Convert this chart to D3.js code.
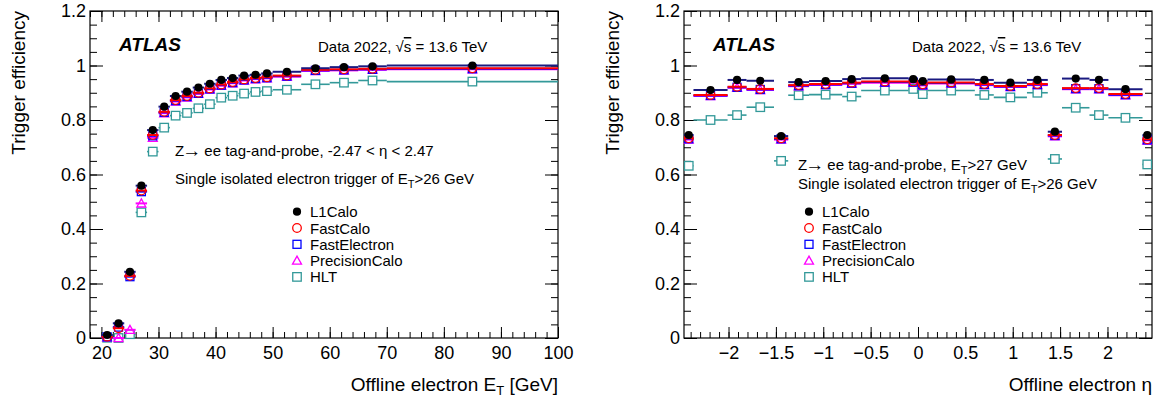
<!DOCTYPE html>
<html lang="en">
<head>
<meta charset="UTF-8">
<title>Trigger efficiency vs ET and eta</title>
<script src="https://d3js.org/d3.v7.min.js"></script>
<style>
    body { margin: 0; background: #fff; }
    svg { display: block; font-family: "Liberation Sans", Arial, Helvetica, sans-serif; }
    .tick text { font-size: 18px; font-family: "Liberation Sans", Arial, Helvetica, sans-serif; fill: #000; }
    .tick line { stroke: #000; stroke-width: 1; }
</style>
</head>
<body>
<svg width="1159" height="405"></svg>
<script>
// ---- ET panel data (bin edges in GeV, one value per bin) ----
const etEdges = [20, 22, 24, 26, 28, 30, 32, 34, 36, 38, 40, 42, 44, 46, 48, 50, 55, 60, 65, 70, 100];
const etL1Calo        = [0.011, 0.054, 0.243, 0.559, 0.763, 0.849, 0.888, 0.904, 0.919, 0.933, 0.947, 0.954, 0.963, 0.966, 0.971, 0.977, 0.990, 0.994, 0.997, 1.000];
const etFastCalo      = [0.005, 0.036, 0.228, 0.541, 0.745, 0.830, 0.873, 0.888, 0.900, 0.916, 0.930, 0.939, 0.949, 0.954, 0.957, 0.963, 0.984, 0.986, 0.988, 0.990];
const etFastElectron  = [0.004, 0.040, 0.225, 0.537, 0.742, 0.828, 0.871, 0.886, 0.898, 0.914, 0.928, 0.937, 0.947, 0.952, 0.955, 0.961, 0.982, 0.984, 0.986, 0.988];
const etPrecisionCalo = [0.003, 0.000, 0.030, 0.494, 0.735, 0.825, 0.868, 0.883, 0.896, 0.912, 0.926, 0.935, 0.945, 0.950, 0.953, 0.959, 0.980, 0.982, 0.984, 0.986];
const etHLT           = [0.001, 0.000, 0.014, 0.461, 0.684, 0.772, 0.816, 0.826, 0.843, 0.858, 0.882, 0.889, 0.897, 0.903, 0.906, 0.911, 0.931, 0.937, 0.945, 0.941];

// ---- eta panel data ----
const etaEdges = [-2.47, -2.37, -2.01, -1.81, -1.52, -1.37, -1.15, -0.8, -0.6, -0.1, 0, 0.1, 0.6, 0.8, 1.15, 1.37, 1.52, 1.81, 2.01, 2.37, 2.47];
const etaL1Calo        = [0.745, 0.910, 0.947, 0.944, 0.741, 0.939, 0.943, 0.950, 0.953, 0.950, 0.943, 0.949, 0.947, 0.937, 0.947, 0.757, 0.952, 0.947, 0.913, 0.745];
const etaFastCalo      = [0.733, 0.892, 0.922, 0.914, 0.733, 0.928, 0.932, 0.937, 0.941, 0.941, 0.931, 0.938, 0.932, 0.925, 0.932, 0.745, 0.917, 0.917, 0.895, 0.729];
const etaFastElectron  = [0.731, 0.890, 0.920, 0.912, 0.731, 0.926, 0.930, 0.935, 0.939, 0.939, 0.929, 0.936, 0.930, 0.923, 0.930, 0.743, 0.915, 0.915, 0.893, 0.727];
const etaPrecisionCalo = [0.728, 0.888, 0.918, 0.910, 0.728, 0.924, 0.928, 0.933, 0.937, 0.937, 0.927, 0.934, 0.928, 0.921, 0.928, 0.740, 0.913, 0.913, 0.891, 0.725];
const etaHLT           = [0.632, 0.800, 0.818, 0.847, 0.650, 0.891, 0.893, 0.886, 0.908, 0.914, 0.895, 0.908, 0.892, 0.883, 0.900, 0.657, 0.845, 0.818, 0.808, 0.637];

// ---- series / ticks ----
const seriesNames  = ["L1Calo", "FastCalo", "FastElectron", "PrecisionCalo", "HLT"];
const seriesColors = ["#000000", "#ff0000", "#0000ff", "#ff00ff", "#339999"];
const seriesBar    = ["#1a1a80", "#ff0000", "#0000ff", "#ff00ff", "#339999"];  // L1Calo bar looks navy in the plot
const seriesMarker = ["dot", "circle", "square", "triangle", "square"];

const yTicks   = [0, 0.2, 0.4, 0.6, 0.8, 1, 1.2];
const etTicks  = [20, 30, 40, 50, 60, 70, 80, 90, 100];
const etaTicks = [-2, -1.5, -1, -0.5, 0, 0.5, 1, 1.5, 2];

const svg = d3.select("svg");
const plotTop = 11, plotBottom = 338;
const FONT_SMALL = 15;

function sub(text, s) {
    // main text + subscript (E_T) + rest; "Z→" gets a wider arrow like the ROOT symbol font
    if (s.arrow) {
        text.append("tspan").text("Z");
        text.append("tspan").attr("font-size", 19).attr("dx", -2).attr("dy", 1).text("\u2192");
        text.append("tspan").attr("dy", -1).attr("dx", -1).text(s.main);
    } else {
        text.append("tspan").text(s.main);
    }
    if (s.sub) {
        text.append("tspan").attr("font-size", s.size).attr("dy", 4).text(s.sub);
        text.append("tspan").attr("dy", -4).text(s.after);
    }
}

function drawPanel(cfg) {
    const g = svg.append("g");
    const x = d3.scaleLinear().domain(cfg.xDomain).range([cfg.left, cfg.right]);
    const y = d3.scaleLinear().domain([0, 1.2]).range([plotBottom, plotTop]);
    const noDomain = s => s.select(".domain").remove();

    // ticks (ROOT style, pointing inward, mirrored on top/right)
    g.append("g").attr("transform", `translate(0,${plotBottom})`)
        .call(d3.axisBottom(x).tickValues(cfg.xMinor).tickSize(-6).tickFormat("")).call(noDomain);
    g.append("g").attr("transform", `translate(0,${plotBottom})`)
        .call(d3.axisBottom(x).tickValues(cfg.xMajor).tickSize(-11).tickPadding(8).tickFormat(cfg.xFormat)).call(noDomain);
    g.append("g").attr("transform", `translate(0,${plotTop})`)
        .call(d3.axisTop(x).tickValues(cfg.xMinor).tickSize(-6).tickFormat("")).call(noDomain);
    g.append("g").attr("transform", `translate(0,${plotTop})`)
        .call(d3.axisTop(x).tickValues(cfg.xMajor).tickSize(-11).tickFormat("")).call(noDomain);

    const yMinor = d3.range(0, 1.2001, 0.05);
    const yFmt = d => d === 0 ? "0" : d3.format(".1f")(d).replace(/\.0$/, "");
    g.append("g").attr("transform", `translate(${cfg.left},0)`)
        .call(d3.axisLeft(y).tickValues(yMinor).tickSize(-7).tickFormat("")).call(noDomain);
    g.append("g").attr("transform", `translate(${cfg.left},0)`)
        .call(d3.axisLeft(y).tickValues(yTicks).tickSize(-13).tickPadding(4).tickFormat(yFmt)).call(noDomain);
    g.append("g").attr("transform", `translate(${cfg.right},0)`)
        .call(d3.axisRight(y).tickValues(yMinor).tickSize(-7).tickFormat("")).call(noDomain);
    g.append("g").attr("transform", `translate(${cfg.right},0)`)
        .call(d3.axisRight(y).tickValues(yTicks).tickSize(-13).tickFormat("")).call(noDomain);

    // frame
    g.append("rect")
        .attr("x", cfg.left).attr("y", plotTop)
        .attr("width", cfg.right - cfg.left).attr("height", plotBottom - plotTop)
        .attr("fill", "none").attr("stroke", "#000").attr("stroke-width", 1.2);

    // data: draw back to front
    const edges = cfg.edges;
    const order = [4, 3, 2, 1, 0];
    order.forEach(si => {
        const vals = cfg.series[si];
        const pts = vals.map((v, i) => ({
            lo: edges[i], hi: edges[i + 1], c: (edges[i] + edges[i + 1]) / 2, v: v
        }));
        const sg = g.append("g");
        sg.selectAll("line").data(pts).join("line")
            .attr("x1", d => x(d.lo)).attr("x2", d => x(d.hi))
            .attr("y1", d => y(d.v)).attr("y2", d => y(d.v))
            .attr("stroke", seriesBar[si]).attr("stroke-width", si === 4 ? 1.6 : 2);
        drawMarkers(sg, pts.map(d => [x(d.c), y(d.v)]), si);
    });

    // y title
    g.append("text")
        .attr("transform", `translate(${cfg.yTitleX},${plotTop}) rotate(-90)`)
        .attr("text-anchor", "end").attr("font-size", 19)
        .text("Trigger efficiency");

    // x title
    const xt = g.append("text")
        .attr("x", cfg.right).attr("y", 391)
        .attr("text-anchor", "end").attr("font-size", 19);
    if (cfg.xTitleSub) sub(xt, cfg.xTitleSub);
    else xt.text(cfg.xTitle);

    // ATLAS label
    g.append("text").attr("x", cfg.atlasX).attr("y", 51)
        .attr("font-size", 19).attr("font-weight", "bold").attr("font-style", "italic")
        .text("ATLAS");

    const dt = g.append("text").attr("x", cfg.dataX).attr("y", 52).attr("font-size", FONT_SMALL);
    dt.append("tspan").text("Data 2022, √");
    dt.append("tspan").style("text-decoration", "overline").text("s");
    dt.append("tspan").text(" = 13.6 TeV");

    // annotation lines
    cfg.notes.forEach(n => {
        const t = g.append("text").attr("x", n.x).attr("y", n.y).attr("font-size", FONT_SMALL);
        sub(t, n.sub);
    });

    // legend
    seriesNames.forEach((name, i) => {
        const ly = cfg.legendY + i * 16.3;
        drawMarkers(g, [[cfg.legendX, ly]], i);
        g.append("text").attr("x", cfg.legendX + 13).attr("y", ly + 5.5)
            .attr("font-size", FONT_SMALL).text(name);
    });
}

function drawMarkers(sel, pts, si) {
    const col = seriesColors[si];
    const kind = seriesMarker[si];
    pts.forEach(([px, py]) => {
        if (kind === "dot") {
            sel.append("circle").attr("cx", px).attr("cy", py).attr("r", 4.1).attr("fill", col);
        } else if (kind === "circle") {
            sel.append("circle").attr("cx", px).attr("cy", py).attr("r", 4.3)
                .attr("fill", "none").attr("stroke", col).attr("stroke-width", 1.3);
        } else if (kind === "square") {
            const s = si === 4 ? 8.5 : 8;
            sel.append("rect").attr("x", px - s / 2).attr("y", py - s / 2)
                .attr("width", s).attr("height", s)
                .attr("fill", si === 4 ? "#fff" : "none").attr("stroke", col).attr("stroke-width", 1.3);
        } else {
            const h = 4.5;
            sel.append("path")
                .attr("d", `M${px},${py - h}L${px + h},${py + h * 0.8}L${px - h},${py + h * 0.8}Z`)
                .attr("fill", "none").attr("stroke", col).attr("stroke-width", 1.3);
        }
    });
}

drawPanel({
    left: 90, right: 558,
    xDomain: [18, 100],
    xMajor: etTicks,
    xMinor: d3.range(18, 100.01, 2),
    xFormat: d3.format("d"),
    edges: etEdges,
    series: [etL1Calo, etFastCalo, etFastElectron, etPrecisionCalo, etHLT],
    yTitleX: 25,
    xTitleSub: { main: "Offline electron E", sub: "T", after: " [GeV]", size: 13 },
    atlasX: 119, dataX: 318,
    notes: [
        { x: 175, y: 156, sub: { arrow: true, main: " ee tag-and-probe, -2.47 < \u03b7 < 2.47" } },
        { x: 175, y: 184, sub: { main: "Single isolated electron trigger of E", sub: "T", after: ">26 GeV", size: 11 } }
    ],
    legendX: 297, legendY: 211.7
});

drawPanel({
    left: 684, right: 1152,
    xDomain: [-2.47, 2.47],
    xMajor: etaTicks,
    xMinor: d3.range(-2.4, 2.41, 0.1),
    xFormat: d => d3.format("")(d),
    edges: etaEdges,
    series: [etaL1Calo, etaFastCalo, etaFastElectron, etaPrecisionCalo, etaHLT],
    yTitleX: 619,
    xTitle: "Offline electron \u03b7",
    atlasX: 713, dataX: 912,
    notes: [
        { x: 798, y: 170, sub: { arrow: true, main: " ee tag-and-probe, E", sub: "T", after: ">27 GeV", size: 11 } },
        { x: 798, y: 189, sub: { main: "Single isolated electron trigger of E", sub: "T", after: ">26 GeV", size: 11 } }
    ],
    legendX: 809, legendY: 211.7
});
</script>
</body>
</html>
